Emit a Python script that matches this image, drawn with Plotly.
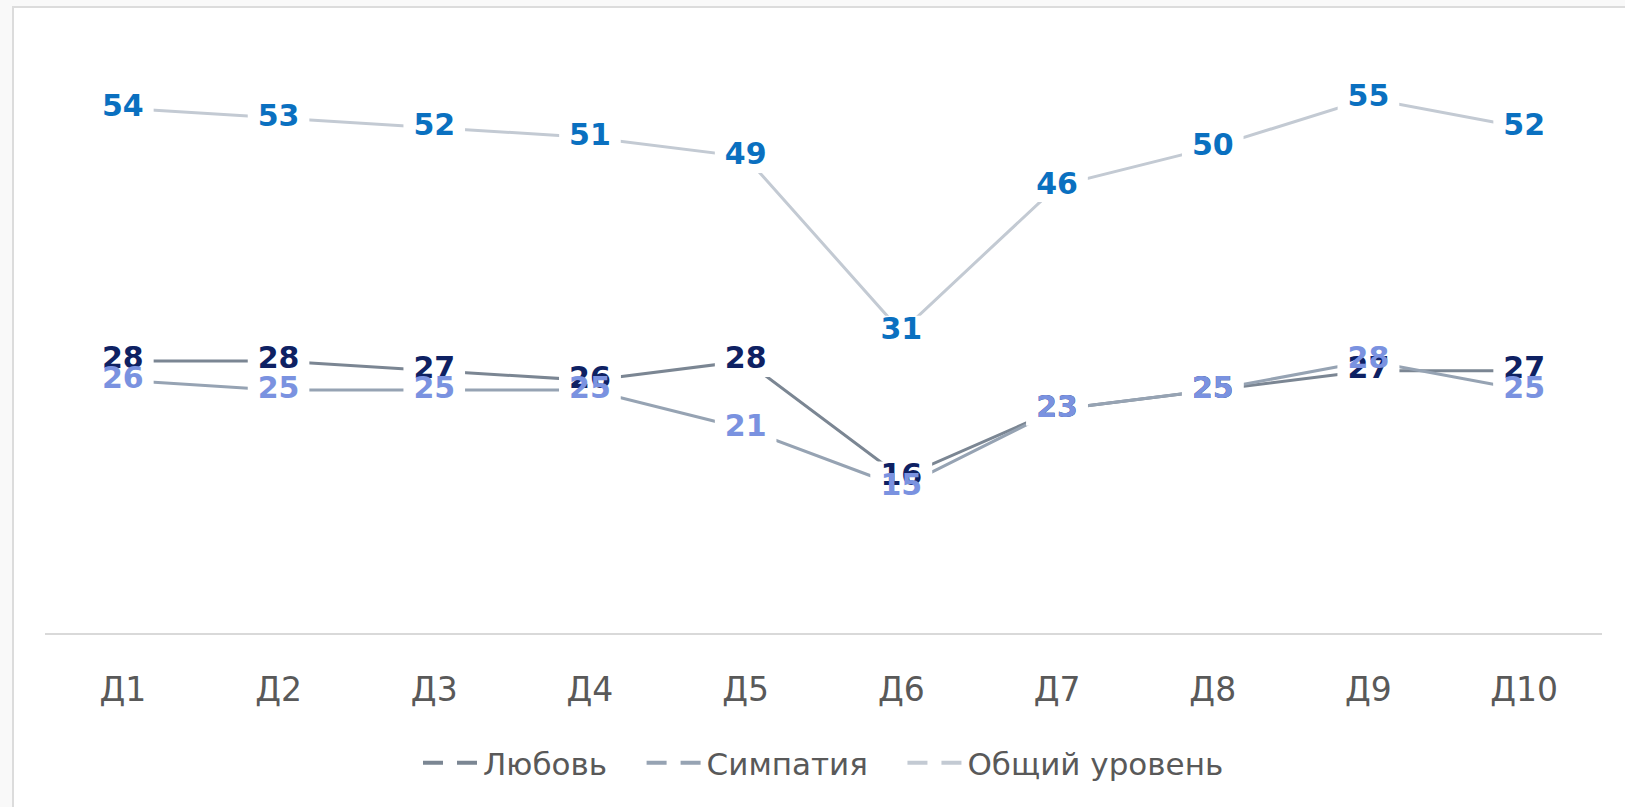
import plotly.graph_objects as go

categories = ["Д1", "Д2", "Д3", "Д4", "Д5", "Д6", "Д7", "Д8", "Д9", "Д10"]
love = [28, 28, 27, 26, 28, 16, 23, 25, 27, 27]
sympathy = [26, 25, 25, 25, 21, 15, 23, 25, 28, 25]
overall = [54, 53, 52, 51, 49, 31, 46, 50, 55, 52]

names = ["Любовь", "Симпатия", "Общий уровень"]
series = [love, sympathy, overall]
line_colors = ["#7b8693", "#96a3b3", "#c3cad3"]
label_colors = ["#0e2163", "#7a92e0", "#0a70c0"]

fig = go.Figure()

# lines
for vals, lc in zip(series, line_colors):
    fig.add_trace(go.Scatter(x=categories, y=vals, mode="lines",
                             line=dict(color=lc, width=3),
                             showlegend=False, hoverinfo="skip"))
# white gaps at points (rectangles behind labels)
for vals in series:
    fig.add_trace(go.Scatter(x=categories, y=vals, mode="markers",
                             marker=dict(symbol="line-ew", size=44, color="white",
                                         line=dict(width=32, color="white")),
                             showlegend=False, hoverinfo="skip"))
# labels
for vals, tc in zip(series, label_colors):
    fig.add_trace(go.Scatter(x=categories, y=vals, mode="text",
                             text=[str(v) for v in vals],
                             textposition="middle center",
                             textfont=dict(family="DejaVu Sans", size=30, color=tc,
                                           weight="bold"),
                             showlegend=False, hoverinfo="skip"))
# legend entries
gap = "\u00a0\u00a0\u00a0"
for i, (nm, lc) in enumerate(zip(names, line_colors)):
    fig.add_trace(go.Scatter(x=[None], y=[None], mode="lines",
                             name=nm + (gap if i < len(names) - 1 else ""),
                             line=dict(color=lc, width=4, dash="20px,14px")))

W, H = 1625, 807
L, R, T, B = 45, 23, 50, 174
pw = W - L - R
ph = H - T - B

fig.add_shape(type="rect", xref="paper", yref="paper",
              x0=(13 - L) / pw, x1=(W + 5 - L) / pw,
              y0=(H - B - (H + 5)) / ph, y1=(H - B - 7) / ph,
              fillcolor="white", line=dict(color="#dcdcdc", width=2),
              layer="below")

fig.update_layout(
    width=W, height=H,
    margin=dict(l=L, r=R, t=T, b=B),
    paper_bgcolor="#f9f9f9",
    plot_bgcolor="rgba(0,0,0,0)",
    font=dict(family="DejaVu Sans", color="#595959"),
    xaxis=dict(type="category", range=[-0.5, 9.5], showgrid=False,
               showline=True, linecolor="#d9d9d9", linewidth=2,
               ticks="", ticklabelstandoff=26,
               tickfont=dict(size=33, color="#595959"), fixedrange=True),
    yaxis=dict(range=[0, 60], showgrid=False, zeroline=False,
               showticklabels=False, showline=False, fixedrange=True),
    legend=dict(orientation="h", x=0.5, xanchor="center",
                y=1 - 763 / H, yanchor="middle", yref="container",
                font=dict(size=31, color="#595959"),
                itemwidth=55, traceorder="normal", bgcolor="rgba(0,0,0,0)"),
    showlegend=True,
)

fig.write_html("out.html", config={"displayModeBar": False},
               post_script="document.body.style.margin='0';document.body.style.overflow='hidden';")
